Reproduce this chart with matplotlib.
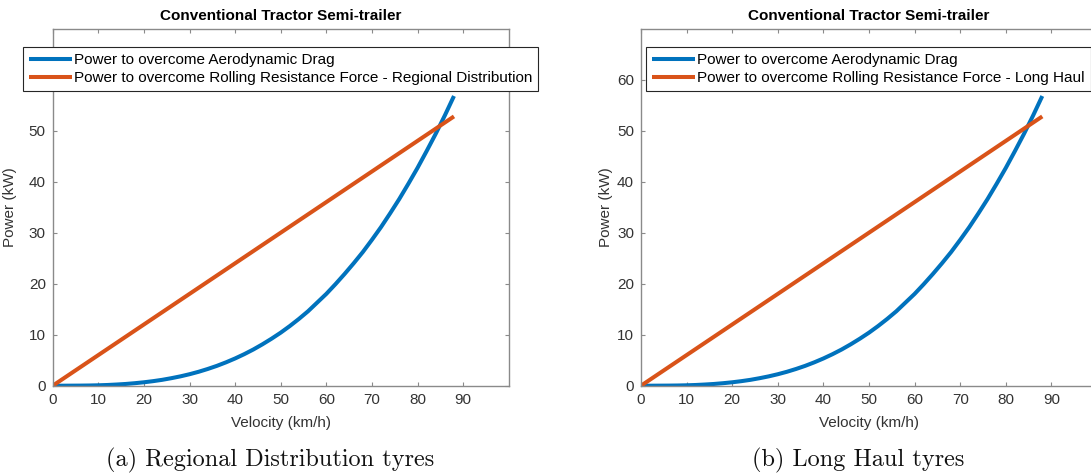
import matplotlib
matplotlib.use('Agg')
import matplotlib.pyplot as plt

# ---- data ----
velocity_aero = [0, 2, 4, 6, 8, 10, 12, 14, 16, 18, 20, 22, 24, 26, 28, 30, 32, 34, 36, 38, 40,
                 42, 44, 46, 48, 50, 52, 54, 56, 58, 60, 62, 64, 66, 68, 70, 72, 74, 76, 78, 80,
                 82, 84, 86, 88]
power_aero = [0.0, 0.0, 0.01, 0.02, 0.04, 0.08, 0.14, 0.23, 0.34, 0.49, 0.67, 0.89, 1.15, 1.47,
              1.83, 2.25, 2.73, 3.28, 3.89, 4.58, 5.34, 6.18, 7.1, 8.12, 9.22, 10.4, 11.7, 13.1,
              14.6, 16.3, 18.0, 19.9, 21.9, 24.0, 26.2, 28.6, 31.1, 33.8, 36.6, 39.6, 42.7,
              46.0, 49.4, 53.0, 56.8]
velocity_roll = [0, 20, 40, 60, 80, 88]
power_roll_regional = [0, 12.0, 24.0, 36.0, 48.0, 52.8]
power_roll_longhaul = [0, 12.0, 24.0, 36.0, 48.0, 52.8]

x_ticks = [0, 10, 20, 30, 40, 50, 60, 70, 80, 90]
y_ticks = [0, 10, 20, 30, 40, 50, 60]

title_text = 'Conventional Tractor Semi-trailer'
label_aero = 'Power to overcome Aerodynamic Drag'
label_regional = 'Power to overcome Rolling Resistance Force - Regional Distribution'
label_longhaul = 'Power to overcome Rolling Resistance Force - Long Haul'
caption_a = '(a) Regional Distribution tyres'
caption_b = '(b) Long Haul tyres'

BLUE = '#0072BD'
ORANGE = '#D95319'
SPINE = '#8a8a8a'
TXT = '#333333'

plt.rcParams['font.family'] = ['Liberation Sans', 'DejaVu Sans']

W, H = 1091, 475
fig = plt.figure(figsize=(W / 100, H / 100), dpi=100)

def px_rect(x0, y_top, w, h):
    return [x0 / W, 1 - (y_top + h) / H, w / W, h / H]

ax_w, ax_h = 456, 357
axes_top = 28.7
ax1 = fig.add_axes(px_rect(52.7, axes_top, ax_w, ax_h))
ax2 = fig.add_axes(px_rect(641.0, axes_top, ax_w, ax_h))

panels = [
    (ax1, power_roll_regional, label_regional, 22.6, -43 / ax_w),
    (ax2, power_roll_longhaul, label_longhaul, 645.7, -35 / ax_w),
]

FS = 11
for ax, roll, roll_label, leg_x, ylab_x in panels:
    l1, = ax.plot(velocity_aero, power_aero, color=BLUE, lw=2.9, solid_capstyle='butt')
    l2, = ax.plot(velocity_roll, roll, color=ORANGE, lw=2.9, solid_capstyle='butt')
    ax.set_xlim(0, 100)
    ax.set_ylim(0, 70)
    ax.set_xticks(x_ticks)
    ax.set_yticks(y_ticks)
    for s in ax.spines.values():
        s.set_color(SPINE)
        s.set_linewidth(1.0)
    ax.tick_params(direction='in', length=3, width=0.8, color=SPINE,
                   labelsize=FS, labelcolor=TXT, top=True, right=True)
    ax.tick_params(axis='y', pad=5.0)
    ax.tick_params(axis='x', pad=5.5)
    ax.set_title(title_text, fontsize=FS, fontweight='bold', color='black', pad=6)
    ax.set_xlabel('Velocity (km/h)', fontsize=FS, color=TXT)
    ax.xaxis.set_label_coords(0.5, (385.7 - 422.7) / ax_h)
    ax.xaxis.label.set_va('center')
    ax.set_ylabel('Power (kW)', fontsize=FS, color=TXT)
    ax.yaxis.set_label_coords(ylab_x, 0.5)
    ax.yaxis.label.set_va('center')
    leg = ax.legend([l1, l2], [label_aero, roll_label], loc='upper left',
                    bbox_to_anchor=(leg_x / W, 1 - 46.7 / H), bbox_transform=fig.transFigure,
                    borderaxespad=0, fontsize=FS, frameon=True, fancybox=False,
                    framealpha=1, edgecolor='#262626', handlelength=2.8,
                    handletextpad=0.12, labelspacing=0.25, borderpad=0.42)
    leg.get_frame().set_linewidth(0.8)
    leg.set_zorder(5)

fig.text(270 / W, 1 - 460 / H, caption_a, fontfamily='cmr10', fontsize=17.5,
         ha='center', va='center', color='#111111')
fig.text(858 / W, 1 - 460 / H, caption_b, fontfamily='cmr10', fontsize=17.5,
         ha='center', va='center', color='#111111')

fig.savefig('out.png', dpi=100)
